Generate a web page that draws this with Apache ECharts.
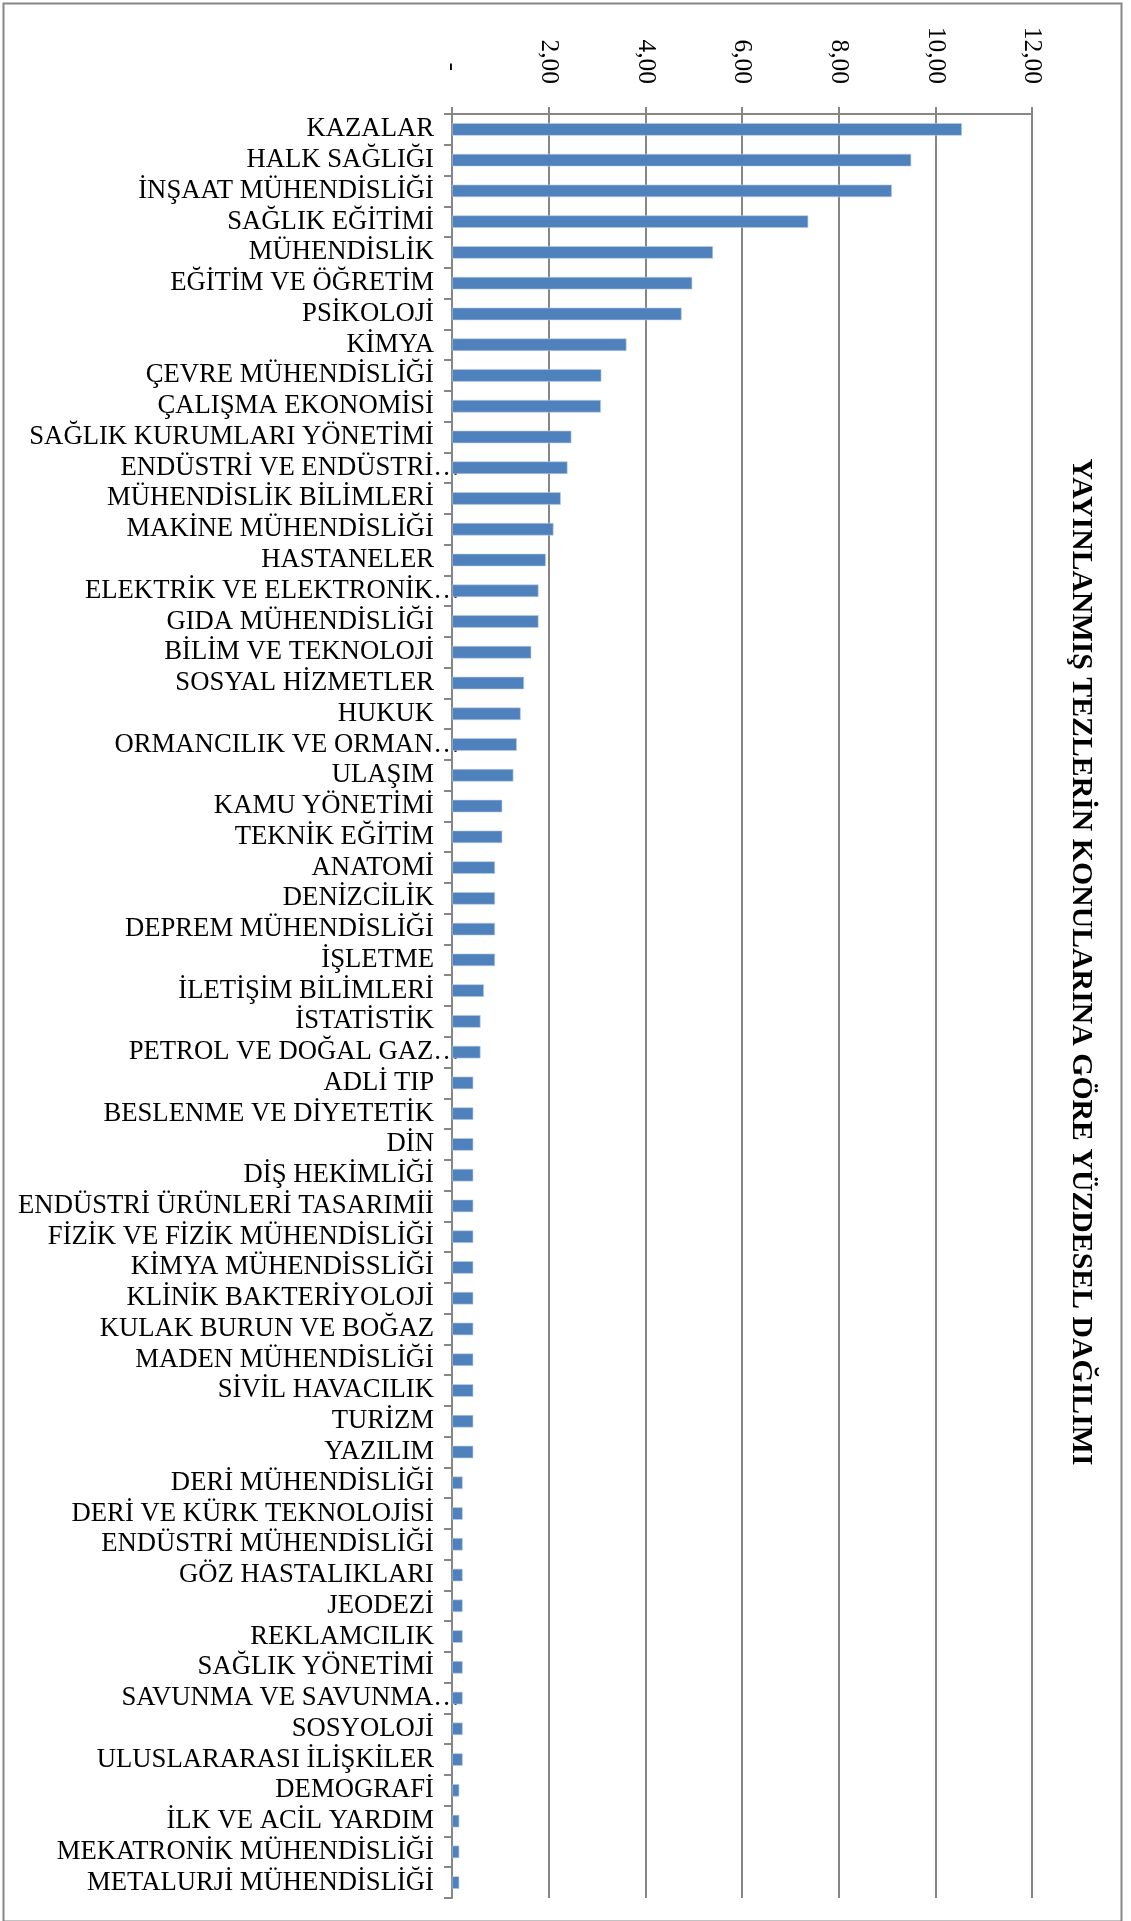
<!DOCTYPE html>
<html>
<head>
<meta charset="utf-8">
<script src="https://cdn.jsdelivr.net/npm/echarts@6/dist/echarts.min.js"></script>
<style>
html,body{margin:0;padding:0;background:#fff;}
#chart{width:1131px;height:1921px;}
</style>
</head>
<body>
<div id="chart"></div>
<script>
const titleText = 'YAYINLANMIŞ TEZLERİN KONULARINA GÖRE YÜZDESEL DAĞILIMI';
const categories = [
  'KAZALAR','HALK SAĞLIĞI','İNŞAAT MÜHENDİSLİĞİ','SAĞLIK EĞİTİMİ','MÜHENDİSLİK',
  'EĞİTİM VE ÖĞRETİM','PSİKOLOJİ','KİMYA','ÇEVRE MÜHENDİSLİĞİ','ÇALIŞMA EKONOMİSİ',
  'SAĞLIK KURUMLARI YÖNETİMİ','ENDÜSTRİ VE ENDÜSTRİ…','MÜHENDİSLİK BİLİMLERİ','MAKİNE MÜHENDİSLİĞİ','HASTANELER',
  'ELEKTRİK VE ELEKTRONİK…','GIDA MÜHENDİSLİĞİ','BİLİM VE TEKNOLOJİ','SOSYAL HİZMETLER','HUKUK',
  'ORMANCILIK VE ORMAN…','ULAŞIM','KAMU YÖNETİMİ','TEKNİK EĞİTİM','ANATOMİ',
  'DENİZCİLİK','DEPREM MÜHENDİSLİĞİ','İŞLETME','İLETİŞİM BİLİMLERİ','İSTATİSTİK',
  'PETROL VE DOĞAL GAZ…','ADLİ TIP','BESLENME VE DİYETETİK','DİN','DİŞ HEKİMLİĞİ',
  'ENDÜSTRİ ÜRÜNLERİ TASARIMİİ','FİZİK VE FİZİK MÜHENDİSLİĞİ','KİMYA MÜHENDİSSLİĞİ','KLİNİK BAKTERİYOLOJİ','KULAK BURUN VE BOĞAZ',
  'MADEN MÜHENDİSLİĞİ','SİVİL HAVACILIK','TURİZM','YAZILIM','DERİ MÜHENDİSLİĞİ',
  'DERİ VE KÜRK TEKNOLOJİSİ','ENDÜSTRİ MÜHENDİSLİĞİ','GÖZ HASTALIKLARI','JEODEZİ','REKLAMCILIK',
  'SAĞLIK YÖNETİMİ','SAVUNMA VE SAVUNMA…','SOSYOLOJİ','ULUSLARARASI İLİŞKİLER','DEMOGRAFİ',
  'İLK VE ACİL YARDIM','MEKATRONİK MÜHENDİSLİĞİ','METALURJİ MÜHENDİSLİĞİ'
];
const values = [
  10.55, 9.50, 9.10, 7.37, 5.40,
  4.97, 4.75, 3.61, 3.09, 3.08,
  2.47, 2.39, 2.25, 2.10, 1.94,
  1.79, 1.79, 1.64, 1.49, 1.42,
  1.34, 1.27, 1.04, 1.04, 0.89,
  0.89, 0.89, 0.89, 0.66, 0.59,
  0.59, 0.44, 0.44, 0.44, 0.44,
  0.44, 0.44, 0.44, 0.44, 0.44,
  0.44, 0.44, 0.44, 0.44, 0.22,
  0.22, 0.22, 0.22, 0.22, 0.22,
  0.22, 0.22, 0.22, 0.22, 0.15,
  0.15, 0.15, 0.15
];
const axisMin = 0, axisMax = 12, axisStep = 2;

const GRAY = '#868686';
const SERIF = '"Liberation Serif", "Times New Roman", serif';
const catData = categories.map(function (c) {
  return c.endsWith('…') ? {value: c, textStyle: {padding: [0, -26, 0, 0]}} : c;
});
const chart = echarts.init(document.getElementById('chart'), null, {renderer: 'canvas'});
chart.setOption({
  backgroundColor: '#ffffff',
  animation: false,
  grid: {left: 452, top: 114, width: 580, height: 1784, containLabel: false},
  xAxis: {
    type: 'value', position: 'top', min: axisMin, max: axisMax, interval: axisStep,
    axisLine: {show: true, lineStyle: {color: GRAY, width: 2}},
    axisTick: {show: true, length: 7, lineStyle: {color: GRAY, width: 2}},
    splitLine: {show: true, lineStyle: {color: GRAY, width: 2}},
    axisLabel: {
      rotate: 90, margin: 30, color: '#000', fontFamily: SERIF, fontSize: 25.5,
      formatter: function (v) { return v === 0 ? '{d|-}{s| }' : v.toFixed(2).replace('.', ','); },
      rich: {
        d: {color: '#000', fontFamily: SERIF, fontSize: 25.5},
        s: {width: 13, color: '#000', fontFamily: SERIF, fontSize: 25.5}
      }
    }
  },
  yAxis: {
    type: 'category', inverse: true, data: catData,
    axisLine: {show: true, lineStyle: {color: GRAY, width: 2}},
    axisTick: {show: true, length: 8, lineStyle: {color: GRAY, width: 2}},
    splitLine: {show: false},
    axisLabel: {interval: 0, margin: 18, color: '#000', fontFamily: SERIF, fontSize: 26.7}
  },
  series: [{
    type: 'bar', data: values, barWidth: 12.5,
    itemStyle: {color: '#4F81BD', borderColor: '#B9CDE5', borderWidth: 0.6},
    silent: true
  }],
  graphic: [
    {type: 'rect', left: 1, top: 1, shape: {x: 0, y: 0, width: 1118, height: 1918}, style: {fill: 'none', stroke: GRAY, lineWidth: 2}, z: -1},
    {type: 'text', x: 1081, y: 962, rotation: -Math.PI / 2,
     style: {text: titleText, fill: '#000', font: 'bold 29.8px "Liberation Serif", "Times New Roman", serif', textAlign: 'center', textVerticalAlign: 'middle'}}
  ]
});
</script>
</body>
</html>
